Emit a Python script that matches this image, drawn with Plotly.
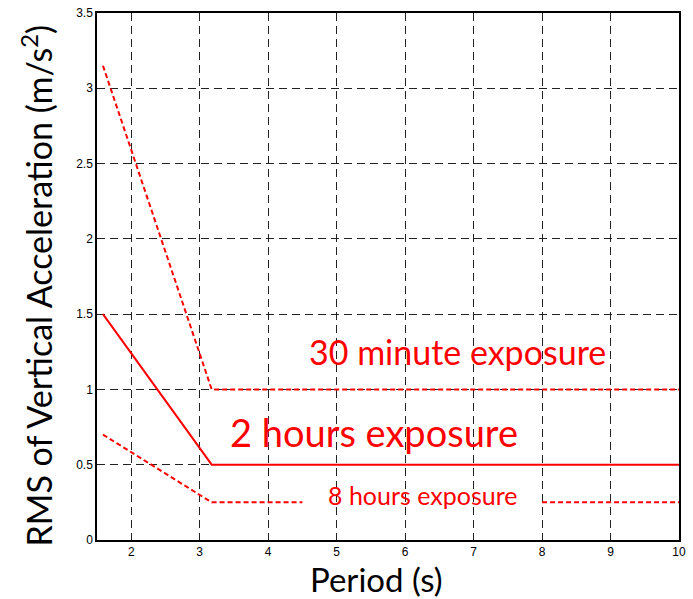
import plotly.graph_objects as go

# Data (period in s, RMS vertical acceleration in m/s^2)
period_30min = [1.587, 3.175, 10.0]
accel_30min = [3.15, 1.0, 1.0]

period_2h = [1.587, 3.175, 10.0]
accel_2h = [1.5, 0.5, 0.5]

period_8h_a = [1.587, 3.175, 4.5]
accel_8h_a = [0.70, 0.25, 0.25]
period_8h_b = [8.0, 10.0]
accel_8h_b = [0.25, 0.25]

x_ticks = [2, 3, 4, 5, 6, 7, 8, 9, 10]
y_ticks = [0, 0.5, 1, 1.5, 2, 2.5, 3, 3.5]
y_tick_labels = ["0", "0.5", "1", "1.5", "2", "2.5", "3", "3.5"]

labels = ["30 minute exposure", "2 hours exposure", "8 hours exposure"]
label_x = [6.76, 5.55, 6.26]
label_y = [1.25, 0.72, 0.30]
label_size = [34, 38, 25]

x_title = "Period (s)"
y_title = "RMS of Vertical Acceleration (m/s<sup>2</sup>)"

red = "#ff0000"
fig = go.Figure()
fig.add_trace(go.Scatter(x=period_30min, y=accel_30min, mode="lines",
                         line=dict(color=red, width=2, dash="5px,3px")))
fig.add_trace(go.Scatter(x=period_2h, y=accel_2h, mode="lines",
                         line=dict(color=red, width=2)))
fig.add_trace(go.Scatter(x=period_8h_a, y=accel_8h_a, mode="lines",
                         line=dict(color=red, width=2, dash="5px,3px")))
fig.add_trace(go.Scatter(x=period_8h_b, y=accel_8h_b, mode="lines",
                         line=dict(color=red, width=2, dash="5px,3px")))

for t, x, y, s in zip(labels, label_x, label_y, label_size):
    fig.add_annotation(x=x, y=y, text=t, showarrow=False,
                       font=dict(family="Lato", size=s, color=red))

# axis titles as annotations for precise placement
fig.add_annotation(xref="paper", yref="paper", x=0.481, y=0, yanchor="middle",
                   yshift=-39, text=x_title, showarrow=False, borderpad=0,
                   font=dict(family="Lato", size=33, color="black"))
fig.add_annotation(xref="paper", yref="paper", x=0, y=0.483, xanchor="center",
                   yanchor="middle", xshift=-60, textangle=-90, text=y_title,
                   showarrow=False, font=dict(family="Lato", size=34, color="black"))

axis_common = dict(showline=True, linecolor="black", linewidth=1.5, mirror=True,
                   showgrid=True, gridcolor="#222222", gridwidth=1, griddash="8px,5px",
                   zeroline=False, ticks="", automargin=False,
                   tickfont=dict(family="Liberation Sans", size=12, color="black"))

fig.update_xaxes(range=[1.5, 10], tickvals=x_ticks, **axis_common)
fig.update_yaxes(range=[0, 3.5], tickvals=y_ticks, ticktext=y_tick_labels, **axis_common)

fig.update_layout(width=693, height=599, showlegend=False,
                  plot_bgcolor="white", paper_bgcolor="white",
                  margin=dict(l=97, r=14, t=13, b=59))

# remove the page's default body margin so the figure fills the window exactly
fig.write_html("out.html", config={"displayModeBar": False},
               post_script="document.body.style.margin='0';")
